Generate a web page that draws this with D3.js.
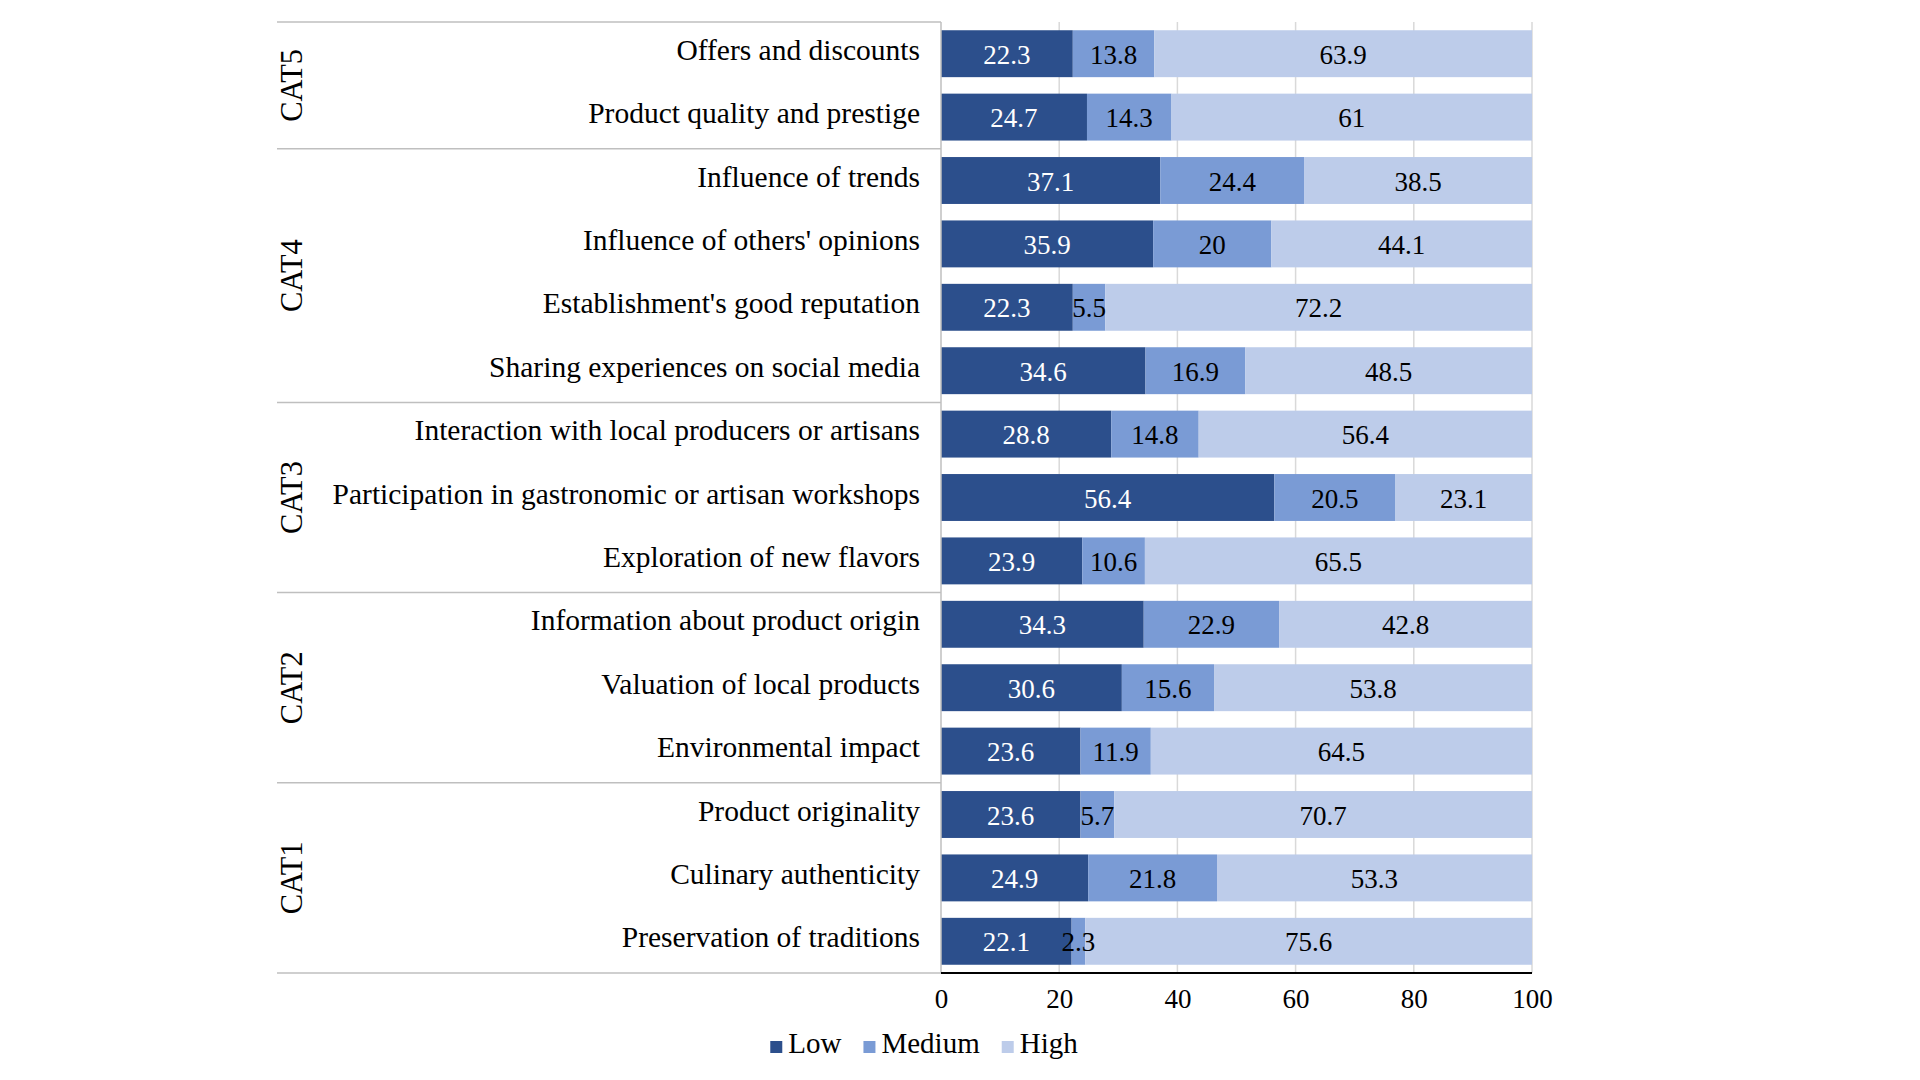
<!DOCTYPE html>
<html>
<head>
<meta charset="utf-8">
<script src="https://cdn.jsdelivr.net/npm/d3@7"></script>
<style>
  html, body { margin: 0; padding: 0; background: #ffffff; }
  svg { display: block; }
  text { font-family: "Liberation Serif", "Times New Roman", serif; }
</style>
</head>
<body>
<svg id="chart" width="1920" height="1080"></svg>
<script>
// ---- data ----
const groups = ["CAT5", "CAT4", "CAT3", "CAT2", "CAT1"];
const groupSizes = [2, 4, 3, 3, 3];
const items = [
  "Offers and discounts",
  "Product quality and prestige",
  "Influence of trends",
  "Influence of others' opinions",
  "Establishment's good reputation",
  "Sharing experiences on social media",
  "Interaction with local producers or artisans",
  "Participation in gastronomic or artisan workshops",
  "Exploration of new flavors",
  "Information about product origin",
  "Valuation of local products",
  "Environmental impact",
  "Product originality",
  "Culinary authenticity",
  "Preservation of traditions"
];
const seriesNames = ["Low", "Medium", "High"];
const lowValues    = [22.3, 24.7, 37.1, 35.9, 22.3, 34.6, 28.8, 56.4, 23.9, 34.3, 30.6, 23.6, 23.6, 24.9, 22.1];
const mediumValues = [13.8, 14.3, 24.4, 20.0, 5.5, 16.9, 14.8, 20.5, 10.6, 22.9, 15.6, 11.9, 5.7, 21.8, 2.3];
const highValues   = [63.9, 61.0, 38.5, 44.1, 72.2, 48.5, 56.4, 23.1, 65.5, 42.8, 53.8, 64.5, 70.7, 53.3, 75.6];
const xTicks = [0, 20, 40, 60, 80, 100];

// ---- layout ----
const colors = ["#2C4F8C", "#7A9BD5", "#BDCCEA"];
const textColors = ["#ffffff", "#000000", "#000000"];
const plotLeft = 941, plotRight = 1532, plotTop = 22, plotBottom = 973;
const catLeft = 277;

const svg = d3.select("#chart");

const x = d3.scaleLinear().domain([0, 100]).range([plotLeft, plotRight]);
const y = d3.scaleBand().domain(items).range([plotTop, plotBottom])
  .paddingInner(0.26).paddingOuter(0.13);

const table = items.map((name, i) => ({
  name, Low: lowValues[i], Medium: mediumValues[i], High: highValues[i]
}));
const stacked = d3.stack().keys(seriesNames)(table);

// gridlines
svg.append("g").selectAll("line")
  .data(xTicks.filter(d => d > 0))
  .join("line")
  .attr("x1", d => x(d)).attr("x2", d => x(d))
  .attr("y1", plotTop).attr("y2", plotBottom)
  .attr("stroke", "#d9d9d9").attr("stroke-width", 1.5);

// bars
const layers = svg.append("g").selectAll("g")
  .data(stacked)
  .join("g")
  .attr("fill", (d, i) => colors[i]);

layers.selectAll("rect")
  .data(d => d.map(s => ({ s, key: d.key })))
  .join("rect")
  .attr("x", d => x(d.s[0]))
  .attr("width", d => x(d.s[1]) - x(d.s[0]))
  .attr("y", d => y(d.s.data.name))
  .attr("height", y.bandwidth());

// value labels
stacked.forEach((layer, li) => {
  svg.append("g").selectAll("text")
    .data(layer)
    .join("text")
    .attr("x", d => x((d[0] + d[1]) / 2))
    .attr("y", d => y(d.data.name) + y.bandwidth() / 2 + 10)
    .attr("text-anchor", "middle")
    .attr("font-size", 27)
    .attr("fill", textColors[li])
    .text(d => d.data[layer.key]);
});

// category (item) labels
svg.append("g").selectAll("text")
  .data(items)
  .join("text")
  .attr("x", 920)
  .attr("y", d => y(d) + y.bandwidth() / 2 + 6)
  .attr("text-anchor", "end")
  .attr("font-size", 29.5)
  .attr("fill", "#000")
  .text(d => d);

// group separators and labels
let start = 0;
const bounds = [0];
groupSizes.forEach(n => { start += n; bounds.push(start); });
const step = y.step();
svg.append("g").selectAll("line")
  .data(bounds)
  .join("line")
  .attr("x1", catLeft).attr("x2", plotLeft)
  .attr("y1", d => plotTop + d * step).attr("y2", d => plotTop + d * step)
  .attr("stroke", "#bfbfbf").attr("stroke-width", 1.5);

svg.append("g").selectAll("text")
  .data(groups)
  .join("text")
  .attr("transform", (d, i) => {
    const cy = plotTop + (bounds[i] + bounds[i + 1]) / 2 * step;
    return `translate(302,${cy}) rotate(-90)`;
  })
  .attr("text-anchor", "middle")
  .attr("font-size", 30.5)
  .attr("fill", "#000")
  .text(d => d);

// vertical category axis line
svg.append("line")
  .attr("x1", plotLeft).attr("x2", plotLeft)
  .attr("y1", plotTop).attr("y2", plotBottom)
  .attr("stroke", "#bfbfbf").attr("stroke-width", 1.5);

// x axis
const xAxis = svg.append("g")
  .attr("transform", `translate(0,${plotBottom})`)
  .call(d3.axisBottom(x).tickValues(xTicks).tickSize(0).tickPadding(16));
xAxis.select(".domain").remove();
xAxis.selectAll("text")
  .attr("font-size", 27)
  .attr("font-family", "Liberation Serif, serif")
  .attr("fill", "#000");
svg.append("line")
  .attr("x1", plotLeft).attr("x2", plotRight)
  .attr("y1", plotBottom).attr("y2", plotBottom)
  .attr("stroke", "#000").attr("stroke-width", 2);

// legend
const legend = svg.append("g");
const legendY = 1047;
let lx = 0;
seriesNames.forEach((name, i) => {
  const g = legend.append("g").attr("transform", `translate(${lx},0)`);
  g.append("rect").attr("x", 0).attr("y", legendY - 6).attr("width", 12).attr("height", 12)
    .attr("fill", colors[i]);
  const t = g.append("text").attr("x", 18).attr("y", legendY + 6)
    .attr("font-size", 29).attr("fill", "#000").text(name);
  const w = t.node().getComputedTextLength();
  lx += 18 + w + 22;
});
const totalW = lx - 22;
legend.attr("transform", `translate(${924 - totalW / 2},0)`);
</script>
</body>
</html>
